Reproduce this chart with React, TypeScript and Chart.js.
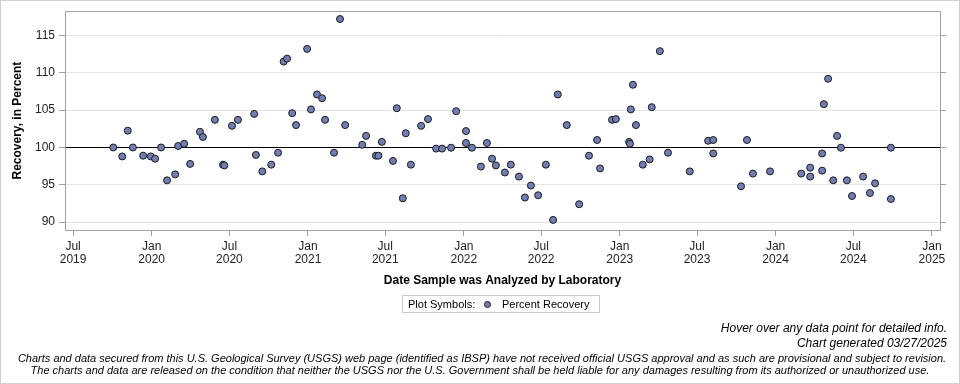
import React, { useEffect, useRef } from "react";
import { Chart, registerables } from "chart.js";

Chart.register(...registerables);

const FONT = 'Arial, "Liberation Sans", sans-serif';

// Sample analysis dates (x) and percent recovery (y)
const sampleDates = [
  "2019-10-03", "2019-10-24", "2019-11-06", "2019-11-18", "2019-12-12", "2019-12-30",
  "2020-01-09", "2020-01-23", "2020-02-06", "2020-02-25", "2020-03-03", "2020-03-17",
  "2020-03-31", "2020-04-23", "2020-04-30", "2020-05-28", "2020-06-16", "2020-06-19",
  "2020-07-07", "2020-07-21", "2020-08-28", "2020-09-01", "2020-09-16", "2020-10-07",
  "2020-10-23", "2020-11-05", "2020-11-13", "2020-11-25", "2020-12-04", "2020-12-30",
  "2021-01-08", "2021-01-22", "2021-02-03", "2021-02-10", "2021-03-03", "2021-03-17",
  "2021-03-29", "2021-05-08", "2021-05-17", "2021-06-09", "2021-06-15", "2021-06-23",
  "2021-07-19", "2021-07-28", "2021-08-11", "2021-08-18", "2021-08-30", "2021-09-23",
  "2021-10-09", "2021-10-28", "2021-11-11", "2021-12-02", "2021-12-14", "2022-01-06",
  "2022-01-06", "2022-01-20", "2022-02-10", "2022-02-24", "2022-03-08", "2022-03-17",
  "2022-04-07", "2022-04-21", "2022-05-10", "2022-05-24", "2022-06-07", "2022-06-24",
  "2022-07-12", "2022-07-29", "2022-08-09", "2022-08-30", "2022-09-28", "2022-10-21",
  "2022-11-09", "2022-11-16", "2022-12-14", "2022-12-23", "2023-01-23", "2023-01-25",
  "2023-01-27", "2023-02-01", "2023-02-08", "2023-02-24", "2023-03-12", "2023-03-17",
  "2023-04-05", "2023-04-24", "2023-06-14", "2023-07-27", "2023-08-08", "2023-08-08",
  "2023-10-12", "2023-10-26", "2023-11-09", "2023-12-19", "2024-03-01", "2024-03-22",
  "2024-03-22", "2024-04-19", "2024-04-19", "2024-04-23", "2024-05-03", "2024-05-15",
  "2024-05-24", "2024-06-02", "2024-06-16", "2024-06-28", "2024-07-24", "2024-08-09",
  "2024-08-21", "2024-09-27", "2024-09-27",
];

const recoveryValues = [
  100.0, 98.8, 102.25, 100.0, 98.9, 98.8,
  98.5, 100.0, 95.6, 96.4, 100.2, 100.5,
  97.8, 102.1, 101.4, 103.7, 97.7, 97.6,
  102.9, 103.7, 104.5, 99.0, 96.8, 97.7,
  99.3, 111.5, 111.9, 104.6, 103.0, 113.2,
  105.1, 107.1, 106.6, 103.7, 99.3, 117.2,
  103.0, 100.36, 101.55, 98.9, 98.9, 100.75,
  98.2, 105.26, 93.2, 101.9, 97.7, 102.9,
  103.8, 99.85, 99.85, 99.97, 104.86, 102.2,
  100.6, 99.97, 97.44, 100.6, 98.5, 97.6,
  96.65, 97.7, 96.1, 93.3, 94.9, 93.6,
  97.7, 90.3, 107.1, 103.0, 92.4, 98.9,
  101.0, 97.2, 103.7, 103.8, 100.75, 100.5,
  105.1, 108.4, 103.0, 97.7, 98.4, 105.4,
  112.9, 99.3, 96.8, 100.9, 101.0, 99.2,
  94.8, 101.0, 96.5, 96.8, 96.5, 97.3,
  96.1, 99.2, 96.9, 105.8, 109.2, 95.6,
  101.55, 99.97, 95.6, 93.5, 96.1, 93.9,
  95.2, 99.97, 93.1,
];

const xTickDates = [
  "2019-07-01", "2020-01-01", "2020-07-01", "2021-01-01", "2021-07-01", "2022-01-01",
  "2022-07-01", "2023-01-01", "2023-07-01", "2024-01-01", "2024-07-01", "2025-01-01",
];
const xTickMonths = ["Jul", "Jan", "Jul", "Jan", "Jul", "Jan", "Jul", "Jan", "Jul", "Jan", "Jul", "Jan"];
const xTickYears = ["2019", "2020", "2020", "2021", "2021", "2022", "2022", "2023", "2023", "2024", "2024", "2025"];

const yTickValues = [90, 95, 100, 105, 110, 115];
const referenceValue = 100;

const xMinDate = "2019-06-12";
const xMaxDate = "2025-01-20";
const yMin = 88.95;
const yMax = 118.25;

const xAxisTitle = "Date Sample was Analyzed by Laboratory";
const yAxisTitle = "Recovery, in Percent";
const seriesName = "Percent Recovery";
const legendLabel = "Plot Symbols:";
const footerLines = [
  "Hover over any data point for detailed info.",
  "Chart generated 03/27/2025",
  "Charts and data secured from this U.S. Geological Survey (USGS) web page (identified as IBSP) have not received official USGS approval and as such are provisional and subject to revision.",
  "The charts and data are released on the condition that neither the USGS nor the U.S. Government shall be held liable for any damages resulting from its authorized or unauthorized use.",
];

const MARKER_FILL = "#6F7EB3";
const MARKER_EDGE = "#1a1a1a";
const FRAME = "#a0a0a0";
const GRID = "#e4e4e4";

const toMs = (d: string) => new Date(d + "T00:00:00Z").getTime();

const framePlugin = {
  id: "frameAndReference",
  beforeDatasetsDraw(chart: any) {
    const { ctx, chartArea, scales } = chart;
    const y = Math.round(scales.y.getPixelForValue(referenceValue)) + 0.5;
    ctx.save();
    ctx.strokeStyle = "#000";
    ctx.lineWidth = 1;
    ctx.beginPath();
    ctx.moveTo(chartArea.left, y);
    ctx.lineTo(chartArea.right, y);
    ctx.stroke();
    ctx.restore();
  },
  afterDraw(chart: any) {
    const { ctx, chartArea } = chart;
    ctx.save();
    ctx.strokeStyle = FRAME;
    ctx.lineWidth = 1;
    const l = Math.round(chartArea.left) + 0.5;
    const t = Math.round(chartArea.top) + 0.5;
    const r = Math.round(chartArea.right) + 0.5;
    const b = Math.round(chartArea.bottom) + 0.5;
    ctx.strokeRect(l, t, r - l, b - t);
    ctx.restore();
  },
};

export default function App() {
  const canvasRef = useRef<HTMLCanvasElement>(null);

  useEffect(() => {
    const xTickValues = xTickDates.map(toMs);
    const points = sampleDates.map((d, i) => ({ x: toMs(d), y: recoveryValues[i] }));
    const chart = new Chart(canvasRef.current as HTMLCanvasElement, {
      type: "scatter",
      data: {
        datasets: [
          {
            label: seriesName,
            data: points,
            backgroundColor: MARKER_FILL,
            borderColor: MARKER_EDGE,
            borderWidth: 1,
            pointRadius: 3.5,
            pointHoverRadius: 4.5,
          },
        ],
      },
      options: {
        animation: false,
        responsive: false,
        devicePixelRatio: 1,
        layout: { padding: { left: 10, top: 9, right: 0, bottom: 96 } },
        plugins: { legend: { display: false }, tooltip: { enabled: true } },
        scales: {
          x: {
            type: "linear",
            position: "bottom",
            min: toMs(xMinDate),
            max: toMs(xMaxDate),
            afterBuildTicks: (scale: any) => {
              scale.ticks = xTickValues.map((v) => ({ value: v }));
            },
            afterFit: (scale: any) => {
              scale.height = 58;
            },
            border: { display: false },
            grid: { drawOnChartArea: false, tickLength: 6, tickColor: FRAME, color: FRAME },
            ticks: {
              autoSkip: false,
              maxRotation: 0,
              padding: 4,
              color: "#222",
              font: { family: FONT, size: 12, lineHeight: 1.1 },
              callback: (value: any) => {
                const i = xTickValues.indexOf(Number(value));
                return i >= 0 ? [xTickMonths[i], xTickYears[i]] : "";
              },
            },
            title: {
              display: true,
              text: xAxisTitle,
              color: "#000",
              padding: { top: 0, bottom: 0 },
              font: { family: FONT, size: 12, weight: "bold", lineHeight: 1.2 },
            },
          },
          y: {
            type: "linear",
            position: "left",
            min: yMin,
            max: yMax,
            afterBuildTicks: (scale: any) => {
              scale.ticks = yTickValues.map((v) => ({ value: v }));
            },
            afterFit: (scale: any) => {
              scale.width = 55;
            },
            border: { display: false },
            grid: { color: GRID, tickLength: 6, tickColor: FRAME },
            ticks: {
              padding: 4,
              color: "#222",
              font: { family: FONT, size: 12 },
            },
            title: {
              display: true,
              text: yAxisTitle,
              color: "#000",
              padding: { top: 0, bottom: 0 },
              font: { family: FONT, size: 12, weight: "bold", lineHeight: 1.2 },
            },
          },
          y2: {
            type: "linear",
            position: "right",
            min: yMin,
            max: yMax,
            afterBuildTicks: (scale: any) => {
              scale.ticks = yTickValues.map((v) => ({ value: v }));
            },
            afterFit: (scale: any) => {
              scale.width = 20;
            },
            border: { display: false },
            grid: { drawOnChartArea: false, tickLength: 6, tickColor: FRAME, color: FRAME },
            ticks: { display: false },
          },
        },
      },
      plugins: [framePlugin],
    } as any);
    return () => chart.destroy();
  }, []);

  const footerBase: React.CSSProperties = {
    position: "absolute",
    fontFamily: FONT,
    fontSize: 11,
    fontStyle: "italic",
    lineHeight: "12px",
    whiteSpace: "nowrap",
    color: "#000",
  };

  return (
    <div style={{ position: "fixed", left: 0, top: 0, width: 960, height: 384, background: "#fff", overflow: "hidden" }}>
      <canvas ref={canvasRef} width={960} height={384} style={{ position: "absolute", left: 0, top: 0, width: 960, height: 384 }} />
      <div
        style={{
          position: "absolute",
          left: 0,
          top: 0,
          width: 960,
          height: 384,
          boxSizing: "border-box",
          border: "1px solid #d0d0d0",
          pointerEvents: "none",
        }}
      />
      <div
        style={{
          position: "absolute",
          left: 402,
          top: 295,
          width: 198,
          height: 18,
          boxSizing: "border-box",
          border: "1px solid #c8c8c8",
          fontFamily: FONT,
          fontSize: 11,
          lineHeight: "16px",
          color: "#000",
        }}
      >
        <span style={{ position: "absolute", left: 5, top: 0, whiteSpace: "nowrap" }}>{legendLabel}</span>
        <span
          style={{
            position: "absolute",
            left: 81,
            top: 4.5,
            width: 7,
            height: 7,
            boxSizing: "border-box",
            borderRadius: "50%",
            background: MARKER_FILL,
            border: "1px solid " + MARKER_EDGE,
          }}
        />
        <span style={{ position: "absolute", left: 99, top: 0, whiteSpace: "nowrap" }}>{seriesName}</span>
      </div>
      <div style={{ ...footerBase, fontSize: 12, lineHeight: "14px", right: 13, top: 321, textAlign: "right" }}>{footerLines[0]}</div>
      <div style={{ ...footerBase, fontSize: 12, lineHeight: "14px", right: 13, top: 336, textAlign: "right" }}>{footerLines[1]}</div>
      <div style={{ ...footerBase, left: 0, width: 964, top: 351.5, textAlign: "center" }}>{footerLines[2]}</div>
      <div style={{ ...footerBase, left: 0, width: 960, top: 364, textAlign: "center" }}>{footerLines[3]}</div>
    </div>
  );
}
